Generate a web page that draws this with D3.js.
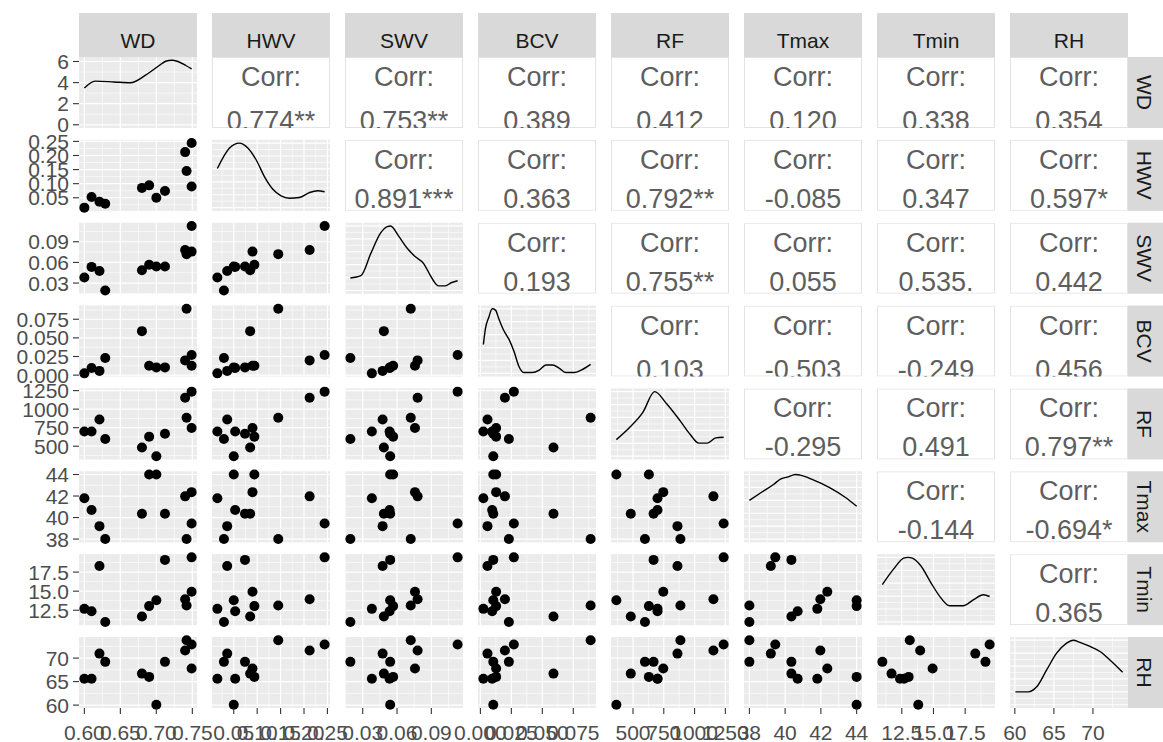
<!DOCTYPE html>
<html>
<head>
<meta charset="utf-8">
<script src="https://cdn.jsdelivr.net/npm/d3@7"></script>
<style>
  body { margin: 0; background: #fff; }
  text { font-family: "Liberation Sans", Arial, sans-serif; }
</style>
</head>
<body>
<div id="chart"></div>
<script>
// variables, one value per observation (12 obs)
const vars = ["WD", "HWV", "SWV", "BCV", "RF", "Tmax", "Tmin", "RH"];
const WD   = [0.600, 0.610, 0.621, 0.629, 0.680, 0.690, 0.700, 0.712, 0.740, 0.742, 0.749, 0.749];
const HWV  = [0.015, 0.053, 0.036, 0.029, 0.085, 0.094, 0.050, 0.074, 0.212, 0.145, 0.244, 0.090];
const SWV  = [0.038, 0.0535, 0.0474, 0.0192, 0.0485, 0.0566, 0.054, 0.054, 0.078, 0.072, 0.113, 0.0757];
const BCV  = [0.0024, 0.0095, 0.0057, 0.023, 0.059, 0.0127, 0.0104, 0.0104, 0.0198, 0.089, 0.027, 0.0127];
const RF   = [699, 699, 861, 597, 482, 629, 365, 667, 1153, 885, 1236, 746];
const Tmax = [41.8, 40.7, 39.2, 38.0, 40.35, 44.0, 44.0, 40.35, 41.97, 38.0, 39.45, 42.36];
const Tmin = [12.68, 12.36, 18.3, 10.97, 11.69, 13.04, 13.8, 19.1, 13.95, 13.13, 19.43, 14.93];
const RH   = [65.6, 65.6, 70.95, 69.2, 66.7, 66.0, 60.07, 69.2, 71.6, 73.8, 72.9, 67.8];

// tick labels per variable
const ticksWD   = ["0.60", "0.65", "0.70", "0.75"];
const ticksHWV  = ["0.05", "0.10", "0.15", "0.20", "0.25"];
const ticksSWV  = ["0.03", "0.06", "0.09"];
const ticksBCV  = ["0.000", "0.025", "0.050", "0.075"];
const ticksRF   = ["500", "750", "1000", "1250"];
const ticksTmax = ["38", "40", "42", "44"];
const ticksTmin = ["12.5", "15.0", "17.5"];
const ticksRH   = ["60", "65", "70"];
const ticksDensWD = ["0", "2", "4", "6"];

// density curves (x in variable units, y relative height)
const densWDx = [0.600, 0.615, 0.641, 0.664, 0.685, 0.704, 0.713, 0.722, 0.729, 0.741, 0.749];
const densWDy = [3.49, 4.14, 4.06, 3.98, 4.70, 5.62, 6.02, 6.12, 6.02, 5.62, 5.30];
const densHWVx = [0.015, 0.041, 0.062, 0.080, 0.098, 0.116, 0.133, 0.151, 0.169, 0.190, 0.212, 0.229, 0.244];
const densHWVy = [0.606, 0.924, 1.0, 0.924, 0.738, 0.473, 0.289, 0.183, 0.146, 0.156, 0.235, 0.262, 0.246];
const densSWVx = [0.0192, 0.0284, 0.0371, 0.0457, 0.0515, 0.0544, 0.0616, 0.0689, 0.0761, 0.0833, 0.0876, 0.0919, 0.0963, 0.1021, 0.1079, 0.113];
const densSWVy = [0.194, 0.230, 0.575, 0.892, 0.99, 1.0, 0.838, 0.654, 0.521, 0.416, 0.283, 0.151, 0.071, 0.071, 0.124, 0.151];
const densBCVx = [0.0024, 0.0040, 0.0068, 0.0095, 0.0122, 0.0149, 0.0190, 0.0231, 0.0271, 0.0312, 0.0353, 0.0420, 0.0475, 0.0529, 0.0583, 0.0638, 0.0691, 0.0760, 0.0813, 0.089];
const densBCVy = [0.447, 0.685, 0.870, 1.0, 0.98, 0.844, 0.659, 0.526, 0.341, 0.103, 0.012, 0.012, 0.050, 0.130, 0.130, 0.077, 0.012, 0.012, 0.050, 0.140];
const densRFx = [365, 470, 580, 676, 773, 883, 965, 1034, 1103, 1172, 1236];
const densRFy = [0.257, 0.441, 0.679, 1.0, 0.813, 0.548, 0.336, 0.203, 0.203, 0.283, 0.294];
const densTmaxx = [38.0, 38.64, 39.37, 39.74, 40.11, 40.6, 40.84, 41.57, 42.49, 43.40, 44.0];
const densTmaxy = [0.60, 0.717, 0.849, 0.93, 0.96, 1.0, 0.99, 0.917, 0.798, 0.640, 0.508];
const densTminx = [10.97, 11.85, 12.65, 13.0, 13.33, 14.0, 14.8, 15.6, 16.26, 17.34, 18.14, 18.94, 19.43];
const densTminy = [0.579, 0.817, 0.987, 1.0, 0.987, 0.870, 0.606, 0.368, 0.251, 0.251, 0.341, 0.421, 0.394];
const densRHx = [60.07, 61.72, 62.8, 64.07, 65.35, 66.63, 67.48, 68.34, 69.62, 70.9, 72.17, 73.8];
const densRHy = [0.200, 0.200, 0.278, 0.539, 0.800, 0.956, 1.0, 0.966, 0.903, 0.825, 0.695, 0.505];

// correlation labels of the upper triangle, one array per row
const corrWD   = ["0.774**", "0.753**", "0.389", "0.412", "0.120", "0.338", "0.354"];
const corrHWV  = ["0.891***", "0.363", "0.792**", "-0.085", "0.347", "0.597*"];
const corrSWV  = ["0.193", "0.755**", "0.055", "0.535.", "0.442"];
const corrBCV  = ["0.103", "-0.503", "-0.249", "0.456"];
const corrRF   = ["-0.295", "0.491", "0.797**"];
const corrTmax = ["-0.144", "-0.694*"];
const corrTmin = ["0.365"];

const data = { WD, HWV, SWV, BCV, RF, Tmax, Tmin, RH };
const ticks = { WD: ticksWD, HWV: ticksHWV, SWV: ticksSWV, BCV: ticksBCV, RF: ticksRF,
                Tmax: ticksTmax, Tmin: ticksTmin, RH: ticksRH };
const dens = {
  WD: [densWDx, densWDy], HWV: [densHWVx, densHWVy], SWV: [densSWVx, densSWVy],
  BCV: [densBCVx, densBCVy], RF: [densRFx, densRFy], Tmax: [densTmaxx, densTmaxy],
  Tmin: [densTminx, densTminy], RH: [densRHx, densRHy]
};
const corr = [corrWD, corrHWV, corrSWV, corrBCV, corrRF, corrTmax, corrTmin];

const width = 1163, height = 742;
const svg = d3.select("#chart").append("svg")
  .attr("width", width)
  .attr("height", height);

const colBand = d3.scaleBand().domain(vars).range([79, 1128]).paddingInner(0.113);
const rowBand = d3.scaleBand().domain(vars).range([57, 708]).paddingInner(0.143);
const bw = colBand.bandwidth(), bh = rowBand.bandwidth();

const expand = ([a, b]) => { const d = (b - a) * 0.05; return [a - d, b + d]; };

const xScale = {}, yScale = {}, densScale = {};
vars.forEach(v => {
  const dom = expand(d3.extent(data[v]));
  xScale[v] = d3.scaleLinear().domain(dom).range([colBand(v), colBand(v) + bw]);
  yScale[v] = d3.scaleLinear().domain(dom).range([rowBand(v) + bh, rowBand(v)]);
  densScale[v] = d3.scaleLinear().domain(expand([0, d3.max(dens[v][1])]))
    .range([rowBand(v) + bh, rowBand(v)]);
});

// ggplot-like minor breaks: midpoints between majors, kept inside the range
function minors(major, dom) {
  const step = major[1] - major[0], out = [];
  for (let t = major[0] - step / 2; t <= dom[1]; t += step) if (t >= dom[0]) out.push(t);
  return out;
}

function grid(g, xs, ys, xt, yt) {
  const xd = xs.domain(), yd = ys.domain();
  const [x0, x1] = xs.range(), [y1, y0] = ys.range();
  const inside = (t, d) => t >= d[0] && t <= d[1];
  g.selectAll(null).data(minors(xt, xd)).join("line")
    .attr("x1", d => xs(d)).attr("x2", d => xs(d)).attr("y1", y0).attr("y2", y1)
    .attr("stroke", "#fff").attr("stroke-width", 0.6);
  g.selectAll(null).data(minors(yt, yd)).join("line")
    .attr("y1", d => ys(d)).attr("y2", d => ys(d)).attr("x1", x0).attr("x2", x1)
    .attr("stroke", "#fff").attr("stroke-width", 0.6);
  g.selectAll(null).data(xt.filter(t => inside(t, xd))).join("line")
    .attr("x1", d => xs(d)).attr("x2", d => xs(d)).attr("y1", y0).attr("y2", y1)
    .attr("stroke", "#fff").attr("stroke-width", 1.2);
  g.selectAll(null).data(yt.filter(t => inside(t, yd))).join("line")
    .attr("y1", d => ys(d)).attr("y2", d => ys(d)).attr("x1", x0).attr("x2", x1)
    .attr("stroke", "#fff").attr("stroke-width", 1.2);
}

const clippedRows = [0, 3]; // rows where the value text runs off the panel bottom

vars.forEach((rv, i) => vars.forEach((cv, j) => {
  const x0 = colBand(cv), y0 = rowBand(rv);
  if (i < j) {
    const cell = svg.append("svg")
      .attr("x", x0).attr("y", y0).attr("width", bw).attr("height", bh);
    cell.append("rect")
      .attr("x", 0.5).attr("y", 0.5).attr("width", bw - 1).attr("height", bh - 1)
      .attr("fill", "#fff").attr("stroke", "#e3e3e3");
    cell.append("text")
      .attr("x", bw / 2).attr("y", 29)
      .attr("text-anchor", "middle").attr("font-size", 27).attr("fill", "#5e5e5e")
      .text("Corr:");
    cell.append("text")
      .attr("x", bw / 2).attr("y", clippedRows.includes(i) ? 73 : 68)
      .attr("text-anchor", "middle").attr("font-size", 27).attr("fill", "#5e5e5e")
      .text(corr[i][j - i - 1]);
    return;
  }
  const g = svg.append("g");
  g.append("rect")
    .attr("x", x0).attr("y", y0).attr("width", bw).attr("height", bh)
    .attr("fill", "#ebebeb");
  const xs = xScale[cv];
  const xt = ticks[cv].map(Number);
  if (i === j) {
    const ys = densScale[rv];
    const yt = i === 0 ? ticksDensWD.map(Number) : ys.ticks(4);
    grid(g, xs, ys, xt, yt);
    const [dx, dy] = dens[rv];
    const line = d3.line().x(d => xs(dx[d])).y(d => ys(dy[d])).curve(d3.curveMonotoneX);
    g.append("path")
      .attr("d", line(d3.range(dx.length)))
      .attr("fill", "none").attr("stroke", "#000").attr("stroke-width", 1.4);
  } else {
    const ys = yScale[rv];
    grid(g, xs, ys, xt, ticks[rv].map(Number));
    g.selectAll("circle")
      .data(d3.range(WD.length))
      .join("circle")
      .attr("cx", k => xs(data[cv][k]))
      .attr("cy", k => ys(data[rv][k]))
      .attr("r", 5)
      .attr("fill", "#000");
  }
}));

// left axis: row 1 shows the density scale of WD, other rows their variable
vars.forEach((rv, i) => {
  const ys = i === 0 ? densScale.WD : yScale[rv];
  const labels = i === 0 ? ticksDensWD : ticks[rv];
  const g = svg.append("g");
  g.selectAll("line").data(labels).join("line")
    .attr("x1", 73).attr("x2", 79)
    .attr("y1", d => ys(+d)).attr("y2", d => ys(+d))
    .attr("stroke", "#333").attr("stroke-width", 1.1);
  g.selectAll("text").data(labels).join("text")
    .attr("x", 69).attr("y", d => ys(+d)).attr("dy", "0.36em")
    .attr("text-anchor", "end").attr("font-size", 21).attr("fill", "#4d4d4d")
    .text(d => d);
});

// bottom axis
const bottom = rowBand("RH") + bh;
vars.forEach(cv => {
  const xs = xScale[cv];
  const g = svg.append("g");
  g.selectAll("line").data(ticks[cv]).join("line")
    .attr("x1", d => xs(+d)).attr("x2", d => xs(+d))
    .attr("y1", bottom).attr("y2", bottom + 6)
    .attr("stroke", "#333").attr("stroke-width", 1.1);
  g.selectAll("text").data(ticks[cv]).join("text")
    .attr("x", d => xs(+d)).attr("y", bottom + 32)
    .attr("text-anchor", "middle").attr("font-size", 21).attr("fill", "#4d4d4d")
    .text(d => d);
});

// strips
vars.forEach(v => {
  svg.append("rect")
    .attr("x", colBand(v)).attr("y", 13).attr("width", bw).attr("height", rowBand(vars[0]) - 13)
    .attr("fill", "#d9d9d9");
  svg.append("text")
    .attr("x", colBand(v) + bw / 2).attr("y", 48)
    .attr("text-anchor", "middle").attr("font-size", 21).attr("fill", "#1a1a1a")
    .text(v);
  svg.append("rect")
    .attr("x", 1128).attr("y", rowBand(v)).attr("width", 40).attr("height", bh)
    .attr("fill", "#d9d9d9");
  svg.append("text")
    .attr("transform", `translate(1145,${rowBand(v) + bh / 2}) rotate(90)`)
    .attr("dy", "0.36em")
    .attr("text-anchor", "middle").attr("font-size", 21).attr("fill", "#1a1a1a")
    .text(v);
});
</script>
</body>
</html>
